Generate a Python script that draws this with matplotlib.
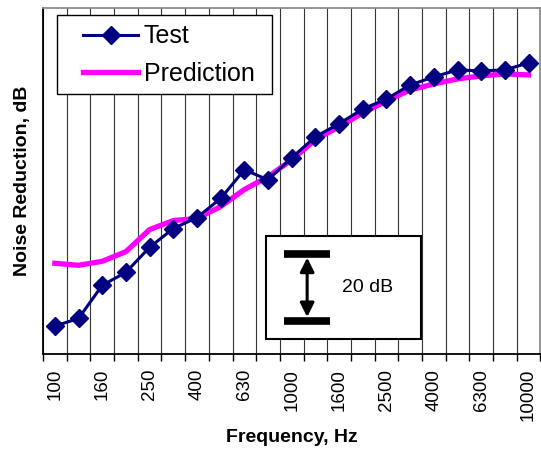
import matplotlib
matplotlib.use("Agg")
import matplotlib.pyplot as plt
from matplotlib.patches import Rectangle
import numpy as np

plt.rcParams['font.family'] = ['Liberation Sans', 'DejaVu Sans']

# One-third octave bands, Hz
freqs = ["100", "125", "160", "200", "250", "315", "400", "500", "630", "800",
         "1000", "1250", "1600", "2000", "2500", "3150", "4000", "5000",
         "6300", "8000", "10000"]

# Noise reduction, dB (relative)
test_nr = [8.4, 10.7, 20.6, 24.5, 32.0, 37.6, 40.9, 46.6, 55.2, 52.2,
           58.8, 65.1, 69.0, 73.4, 76.4, 80.6, 83.0, 85.1, 84.8, 85.1, 87.2]
pred_nr = [27.2, 26.6, 27.8, 30.7, 37.3, 40.0, 40.6, 44.2, 49.3, 53.1,
           58.2, 64.2, 68.1, 72.2, 75.8, 79.1, 80.9, 82.4, 83.3, 83.9, 83.6]

scale_lo, scale_hi = 10.0, 30.0  # 20 dB reference bar

fig = plt.figure(figsize=(5.41, 4.5), dpi=100)
ax = fig.add_axes([0.0795, 0.213, 0.9195, 0.769])

x = np.arange(len(freqs))
ax.plot(x, pred_nr, color="#FF00FF", linewidth=3.8, solid_joinstyle="round",
        label="Prediction", zorder=3)
ax.plot(x, test_nr, color="#000080", linewidth=2.2, marker="D", markersize=9.5,
        label="Test", zorder=4)

ax.set_xlim(-0.5, len(freqs) - 0.5)
ax.set_ylim(0, 103.6)

# labels under every other band, grid + tick marks between bands
ax.set_xticks(x[::2])
ax.set_xticklabels(freqs[::2], rotation=90, fontsize=13.5)
ax.tick_params(axis="x", which="major", length=0, pad=10.5)
ax.set_xticks(np.arange(len(freqs) + 1) - 0.5, minor=True)
ax.tick_params(axis="x", which="minor", length=5, width=1, direction="out", color="black")
ax.grid(True, axis="x", which="minor", color="0.2", linewidth=0.8)
ax.set_yticks([])

for side in ["left", "bottom"]:
    ax.spines[side].set_color("black")
    ax.spines[side].set_linewidth(1.3)
for side in ["top", "right"]:
    ax.spines[side].set_color("0.55")
    ax.spines[side].set_linewidth(1.3)

ax.set_xlabel("Frequency, Hz", fontsize=14, fontweight="bold", labelpad=6)
ax.set_ylabel("Noise Reduction, dB", fontsize=14, fontweight="bold", labelpad=8.5)

# legend: frame drawn separately so the padding matches
ax.add_patch(Rectangle((0.0282, 0.752), 0.4326, 0.228, transform=ax.transAxes,
                       fill=True, facecolor="white", edgecolor="black",
                       linewidth=1.0, zorder=5))
handles, labels = ax.get_legend_handles_labels()
leg = ax.legend(handles[::-1], labels[::-1], loc="upper left",
                bbox_to_anchor=(0.0805, 0.953), borderaxespad=0, borderpad=0,
                frameon=False, fontsize=18, handlelength=2.2, handletextpad=0.22,
                labelspacing=0.53)
leg.set_zorder(6)

# 20 dB scale box
ax.add_patch(Rectangle((0.449, 0.043), 0.31, 0.297, transform=ax.transAxes,
                       fill=True, facecolor="white", edgecolor="black",
                       linewidth=1.5, zorder=5))
ytr = ax.get_yaxis_transform()
for yv in (scale_lo, scale_hi):
    ax.plot([0.485, 0.577], [yv, yv], transform=ytr, color="black",
            linewidth=5.5, solid_capstyle="butt", zorder=6)
ax.annotate("", xy=(0.531, scale_hi - 1.1), xytext=(0.531, scale_lo + 1.1),
            xycoords=ytr, textcoords=ytr,
            arrowprops=dict(arrowstyle="<|-|>", color="black", lw=2.2,
                            mutation_scale=21, shrinkA=0, shrinkB=0),
            zorder=6)
ax.text(0.602, (scale_lo + scale_hi) / 2, "20 dB", transform=ytr, fontsize=14,
        va="center", ha="left", zorder=6)

plt.savefig("out.png", dpi=100)
plt.close()
